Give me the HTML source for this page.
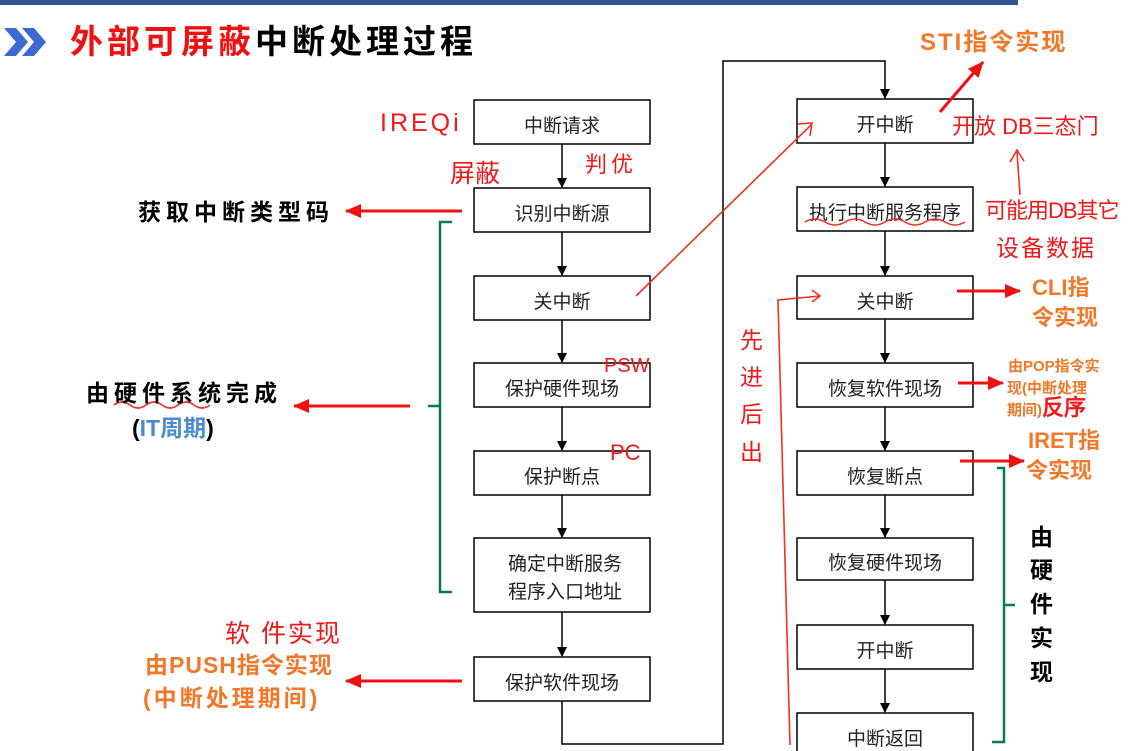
<!DOCTYPE html>
<html><head><meta charset="utf-8"><style>
body{margin:0;background:#fff}
svg{display:block}
text{font-family:"Liberation Sans","Noto Sans CJK SC",sans-serif}
.b{fill:#fff;stroke:#000;stroke-width:1.5}
.t{font-size:19px;fill:#222;text-anchor:middle}
.r{fill:#f01818;font-family:"Liberation Sans","WenQuanYi Zen Hei",sans-serif}
.o{fill:#f07828;font-weight:bold}
</style></head><body>
<svg width="1147" height="751" viewBox="0 0 1147 751">
<defs>
<marker id="ak" markerWidth="10" markerHeight="10" refX="9" refY="5" orient="auto" markerUnits="userSpaceOnUse"><path d="M0,0 L10,5 L0,10z" fill="#000"/></marker>
<marker id="ar" markerWidth="16" markerHeight="14" refX="15" refY="7" orient="auto" markerUnits="userSpaceOnUse"><path d="M0,0 L16,7 L0,14z" fill="#f01010"/></marker>
</defs>
<rect x="0" y="0" width="1018" height="5" fill="#2f5597"/>
<path d="M4,28 L16,28 L28,42 L16,56 L4,56 L16,42z" fill="#3c6ad0"/>
<path d="M22,28 L34,28 L46,42 L34,56 L22,56 L34,42z" fill="#3c6ad0"/>
<text x="70" y="53" font-size="33" font-weight="bold" letter-spacing="4" fill="#f01010">外部可屏蔽<tspan fill="#000">中断处理过程</tspan></text>

<g>
<rect class="b" x="474" y="100" width="176" height="44"/><text class="t" x="562" y="132">中断请求</text>
<rect class="b" x="474" y="188" width="176" height="44"/><text class="t" x="562" y="220">识别中断源</text>
<rect class="b" x="474" y="276" width="176" height="44"/><text class="t" x="562" y="308">关中断</text>
<rect class="b" x="474" y="363" width="176" height="44"/><text class="t" x="562" y="395">保护硬件现场</text>
<rect class="b" x="474" y="451" width="176" height="44"/><text class="t" x="562" y="483">保护断点</text>
<rect class="b" x="474" y="538" width="176" height="74"/><text class="t" x="565" y="570">确定中断服务</text><text class="t" x="565" y="598">程序入口地址</text>
<rect class="b" x="474" y="657" width="176" height="44"/><text class="t" x="562" y="689">保护软件现场</text>
</g>
<g stroke="#000" stroke-width="1.5" fill="none">
<line x1="562" y1="144" x2="562" y2="187" marker-end="url(#ak)"/>
<line x1="562" y1="232" x2="562" y2="275" marker-end="url(#ak)"/>
<line x1="562" y1="320" x2="562" y2="362" marker-end="url(#ak)"/>
<line x1="562" y1="407" x2="562" y2="450" marker-end="url(#ak)"/>
<line x1="562" y1="495" x2="562" y2="537" marker-end="url(#ak)"/>
<line x1="562" y1="612" x2="562" y2="656" marker-end="url(#ak)"/>
<polyline points="562,701 562,744 723,744 723,61 885,61 885,98" marker-end="url(#ak)"/>
<line x1="885" y1="143" x2="885" y2="186" marker-end="url(#ak)"/>
<line x1="885" y1="231" x2="885" y2="275" marker-end="url(#ak)"/>
<line x1="885" y1="319" x2="885" y2="362" marker-end="url(#ak)"/>
<line x1="885" y1="407" x2="885" y2="450" marker-end="url(#ak)"/>
<line x1="885" y1="495" x2="885" y2="537" marker-end="url(#ak)"/>
<line x1="885" y1="580" x2="885" y2="624" marker-end="url(#ak)"/>
<line x1="885" y1="669" x2="885" y2="712" marker-end="url(#ak)"/>
</g>
<g>
<rect class="b" x="797" y="99" width="176" height="44"/><text class="t" x="885" y="131">开中断</text>
<rect class="b" x="797" y="187" width="176" height="44"/><text class="t" x="885" y="219">执行中断服务程序</text>
<rect class="b" x="797" y="276" width="176" height="43"/><text class="t" x="885" y="308">关中断</text>
<rect class="b" x="797" y="363" width="176" height="44"/><text class="t" x="885" y="395">恢复软件现场</text>
<rect class="b" x="797" y="451" width="176" height="44"/><text class="t" x="885" y="483">恢复断点</text>
<rect class="b" x="797" y="538" width="176" height="42"/><text class="t" x="885" y="569">恢复硬件现场</text>
<rect class="b" x="797" y="625" width="176" height="44"/><text class="t" x="885" y="657">开中断</text>
<rect class="b" x="797" y="713" width="176" height="44"/><text class="t" x="885" y="745">中断返回</text>
</g>

<g stroke="#f01010" stroke-width="3" fill="none">
<line x1="462" y1="211" x2="346" y2="211" marker-end="url(#ar)"/>
<line x1="410" y1="406" x2="294" y2="406" marker-end="url(#ar)"/>
<line x1="462" y1="681" x2="346" y2="681" marker-end="url(#ar)"/>
<line x1="940" y1="112" x2="983" y2="62" marker-end="url(#ar)"/>
<line x1="957" y1="291" x2="1020" y2="291" marker-end="url(#ar)"/>
<line x1="958" y1="383" x2="1003" y2="383" marker-end="url(#ar)"/>
<line x1="960" y1="461" x2="1024" y2="461" marker-end="url(#ar)"/>
</g>
<g stroke="#f03020" stroke-width="1.6" fill="none">
<line x1="636" y1="296" x2="812" y2="124"/><polyline points="798,124 812,123 810,136"/>
<polyline points="790,745 778,300 820,296"/><polyline points="812,290 820,296 812,302"/>
<line x1="1020" y1="195" x2="1017" y2="152"/><polyline points="1010,162 1017,150 1024,161"/>
<path d="M805,222 q10,-6 20,0 t20,0 t20,0 t20,0 t20,0 t20,0 t20,0 t20,0"/>
<path d="M114,405 q8,-6 16,0 t16,0 t16,0 t16,0 t16,0 t16,0"/>
</g>
<g stroke="#0a7a50" stroke-width="2.5" fill="none">
<polyline points="452,222 440,222 440,592 452,592"/>
<line x1="428" y1="406" x2="440" y2="406"/>
<polyline points="997,468 1004,468 1004,742 992,742"/>
<line x1="1004" y1="605" x2="1015" y2="605"/>
</g>

<text class="r" x="380" y="131" font-size="25" letter-spacing="3">IREQi</text>
<text class="r" x="450" y="182" font-size="25">屏蔽</text>
<text class="r" x="585" y="172" font-size="22" letter-spacing="4">判优</text>
<text class="r" x="604" y="372" font-size="20">PSW</text>
<text class="r" x="610" y="460" font-size="22">PC</text>
<text class="r" x="952" y="134" font-size="22">开放 DB三态门</text>
<text class="r" x="985" y="218" font-size="22" letter-spacing="-1">可能用DB其它</text>
<text class="r" x="996" y="256" font-size="23" letter-spacing="2">设备数据</text>
<text class="r" x="225" y="642" font-size="25" letter-spacing="2">软 件实现</text>
<g class="r" font-size="23"><text x="740" y="348">先</text><text x="740" y="385">进</text><text x="740" y="422">后</text><text x="740" y="460">出</text></g>

<text x="138" y="220" font-size="23" font-weight="bold" letter-spacing="5" fill="#000">获取中断类型码</text>
<text x="86" y="401" font-size="23" font-weight="bold" letter-spacing="5" fill="#000">由硬件系统完成</text>
<text x="132" y="436" font-size="23" font-weight="bold" fill="#000">(<tspan fill="#4a8ad0">IT周期</tspan>)</text>
<text class="o" x="145" y="673" font-size="23" letter-spacing="1">由PUSH指令实现</text>
<text class="o" x="143" y="706" font-size="23" letter-spacing="3">(中断处理期间)</text>
<text class="o" x="920" y="50" font-size="24" letter-spacing="2">STI指令实现</text>
<text class="o" x="1032" y="295" font-size="22">CLI指</text>
<text class="o" x="1032" y="325" font-size="22">令实现</text>
<text class="o" x="1008" y="371" font-size="15">由POP指令实</text>
<text class="o" x="1007" y="393" font-size="15">现(中断处理</text>
<text class="o" x="1007" y="415" font-size="15">期间)<tspan class="r" font-size="22">反序</tspan></text>
<text class="o" x="1028" y="448" font-size="22">IRET指</text>
<text class="o" x="1026" y="478" font-size="22">令实现</text>
<g font-size="23" font-weight="bold" fill="#000"><text x="1030" y="545">由</text><text x="1030" y="578">硬</text><text x="1030" y="612">件</text><text x="1030" y="646">实</text><text x="1030" y="680">现</text></g>
</svg>
</body></html>
